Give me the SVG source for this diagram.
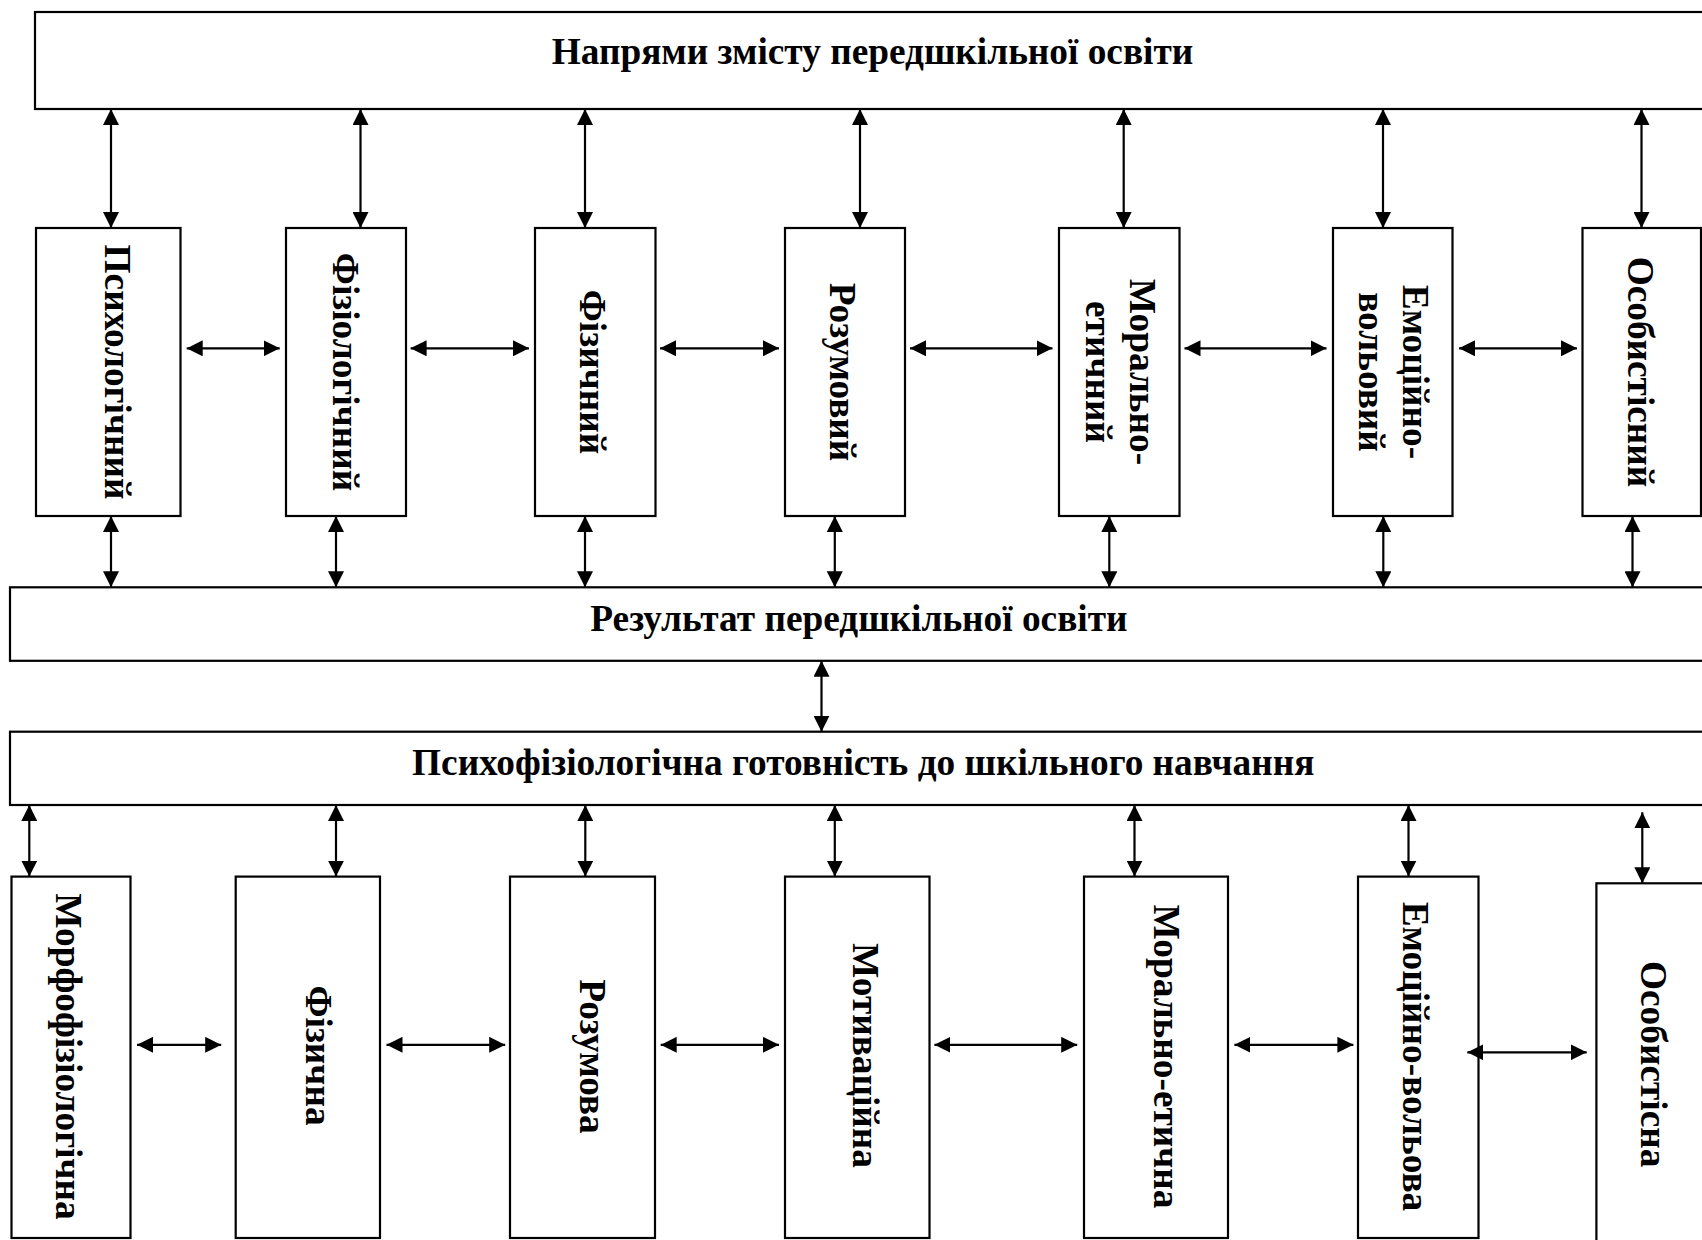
<svg xmlns="http://www.w3.org/2000/svg" width="1702" height="1240" viewBox="0 0 1702 1240">
<defs>
<style>
.box{fill:#fff;stroke:#000;stroke-width:2.2}
.t{font-family:"Liberation Serif","Times New Roman",serif;font-weight:bold;font-size:37.3px;fill:#000}
.v{text-anchor:middle}
.c line{stroke:#000;stroke-width:2.2;marker-start:url(#ah);marker-end:url(#ah)}
</style>
<marker id="ah" markerUnits="userSpaceOnUse" markerWidth="16" markerHeight="16" viewBox="0 0 15 15" refX="15" refY="7.5" orient="auto-start-reverse">
<path d="M0,0 L15,7.5 L0,15 z" fill="#000"/>
</marker>
</defs>
<rect width="1702" height="1240" fill="#fff"/>

<g id="top">
<rect class="box" x="35" y="12" width="1680" height="97"/>
<text class="t" x="872.5" y="64.3" text-anchor="middle">Напрями змісту передшкільної освіти</text>
</g>

<g id="t1"><rect class="box" x="36" y="228" width="144.5" height="288"/>
<text class="t v" transform="translate(105.2,372) rotate(90)">Психологічний</text></g>
<g id="t2"><rect class="box" x="286" y="228" width="120" height="288"/>
<text class="t v" transform="translate(333,372) rotate(90)">Фізіологічний</text></g>
<g id="t3"><rect class="box" x="535" y="228" width="120.5" height="288"/>
<text class="t v" transform="translate(580.4,372) rotate(90)">Фізичний</text></g>
<g id="t4"><rect class="box" x="785" y="228" width="120" height="288"/>
<text class="t v" transform="translate(830.4,372) rotate(90)">Розумовий</text></g>
<g id="t5"><rect class="box" x="1059" y="228" width="120.5" height="288"/>
<text class="t v" transform="translate(1129.5,372) rotate(90)">Морально-</text>
<text class="t v" transform="translate(1085.5,372) rotate(90)">етичний</text></g>
<g id="t6"><rect class="box" x="1333" y="228" width="119.5" height="288"/>
<text class="t v" transform="translate(1403.3,372) rotate(90)">Емоційно-</text>
<text class="t v" transform="translate(1359,372) rotate(90)">вольовий</text></g>
<g id="t7"><rect class="box" x="1582.5" y="228" width="118.5" height="288"/>
<text class="t v" transform="translate(1627.9,372) rotate(90)">Особистісний</text></g>

<g id="result">
<rect class="box" x="10" y="587.3" width="1700" height="73.5"/>
<text class="t" x="858.9" y="630.7" text-anchor="middle">Результат передшкільної освіти</text>
</g>

<g id="psych">
<rect class="box" x="10" y="731.7" width="1710" height="73.3"/>
<text class="t" x="863.2" y="774.7" text-anchor="middle">Психофізіологічна готовність до шкільного навчання</text>
</g>

<g id="b1"><rect class="box" x="11.5" y="876.6" width="119" height="361.4"/>
<text class="t v" transform="translate(55.5,1056.5) rotate(90)">Морфофізіологічна</text></g>
<g id="b2"><rect class="box" x="235.7" y="876.6" width="144.3" height="361.4"/>
<text class="t v" transform="translate(306.2,1055.5) rotate(90)">Фізична</text></g>
<g id="b3"><rect class="box" x="510" y="876.6" width="145" height="361.4"/>
<text class="t v" transform="translate(580.4,1056.5) rotate(90)">Розумова</text></g>
<g id="b4"><rect class="box" x="785" y="876.6" width="144.5" height="361.4"/>
<text class="t v" transform="translate(852.7,1055.5) rotate(90)">Мотиваційна</text></g>
<g id="b5"><rect class="box" x="1084" y="876.6" width="144" height="361.4"/>
<text class="t v" transform="translate(1154,1056.5) rotate(90)">Морально-етична</text></g>
<g id="b6"><rect class="box" x="1358" y="876.6" width="120.5" height="361.4"/>
<text class="t v" transform="translate(1403.3,1056.5) rotate(90)">Емоційно-вольова</text></g>
<g id="b7"><rect class="box" x="1596.4" y="883.3" width="120" height="362"/>
<text class="t v" transform="translate(1640.7,1064.2) rotate(90)">Особистісна</text></g>

<g id="connectors" class="c">
<line x1="111" y1="109" x2="111" y2="228"/>
<line x1="360.5" y1="109" x2="360.5" y2="228"/>
<line x1="585" y1="109" x2="585" y2="228"/>
<line x1="860" y1="109" x2="860" y2="228"/>
<line x1="1123.7" y1="109" x2="1123.7" y2="228"/>
<line x1="1383" y1="109" x2="1383" y2="228"/>
<line x1="1641.5" y1="109" x2="1641.5" y2="228"/>

<line x1="186.7" y1="348.3" x2="279.7" y2="348.3"/>
<line x1="410.6" y1="348.3" x2="529" y2="348.3"/>
<line x1="660" y1="348.3" x2="779" y2="348.3"/>
<line x1="910" y1="348.3" x2="1052.5" y2="348.3"/>
<line x1="1184.5" y1="348.3" x2="1326.5" y2="348.3"/>
<line x1="1459" y1="348.3" x2="1577" y2="348.3"/>

<line x1="111" y1="516" x2="111" y2="587.3"/>
<line x1="336" y1="516" x2="336" y2="587.3"/>
<line x1="585" y1="516" x2="585" y2="587.3"/>
<line x1="834.8" y1="516" x2="834.8" y2="587.3"/>
<line x1="1109.3" y1="516" x2="1109.3" y2="587.3"/>
<line x1="1383.3" y1="516" x2="1383.3" y2="587.3"/>
<line x1="1632.5" y1="516" x2="1632.5" y2="587.3"/>

<line x1="821.5" y1="660.8" x2="821.5" y2="731.7"/>

<line x1="29.3" y1="805" x2="29.3" y2="876.6"/>
<line x1="336" y1="805" x2="336" y2="876.6"/>
<line x1="585.3" y1="805" x2="585.3" y2="876.6"/>
<line x1="834.8" y1="805" x2="834.8" y2="876.6"/>
<line x1="1134.5" y1="805" x2="1134.5" y2="876.6"/>
<line x1="1408.5" y1="805" x2="1408.5" y2="876.6"/>
<line x1="1642.3" y1="812.3" x2="1642.3" y2="883.3"/>

<line x1="137" y1="1044.8" x2="221.2" y2="1044.8"/>
<line x1="386.5" y1="1044.8" x2="505.2" y2="1044.8"/>
<line x1="660.7" y1="1044.8" x2="779" y2="1044.8"/>
<line x1="934.4" y1="1044.8" x2="1077.2" y2="1044.8"/>
<line x1="1234.4" y1="1044.8" x2="1353.4" y2="1044.8"/>
<line x1="1467.3" y1="1052.3" x2="1586.7" y2="1052.3"/>
</g>
</svg>
